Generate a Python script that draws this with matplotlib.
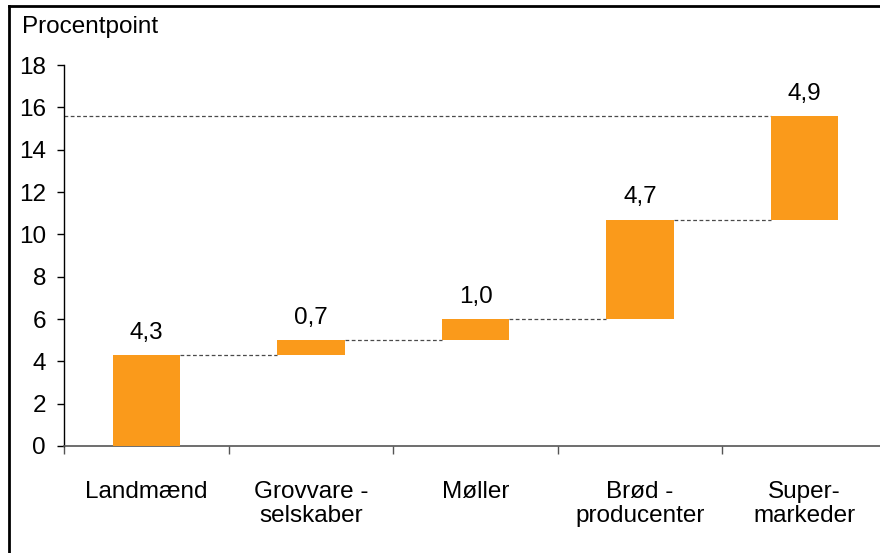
import matplotlib
matplotlib.use("Agg")
import matplotlib.pyplot as plt
from matplotlib.lines import Line2D

plt.rcParams['font.family'] = ['Liberation Sans', 'DejaVu Sans']

categories = ["Landmænd", "Grovvare -\nselskaber", "Møller", "Brød -\nproducenter", "Super-\nmarkeder"]
increments = [4.3, 0.7, 1.0, 4.7, 4.9]
value_labels = ["4,3", "0,7", "1,0", "4,7", "4,9"]
yticks = [0, 2, 4, 6, 8, 10, 12, 14, 16, 18]

bar_color = "#FA9A1B"
fs = 17.5

fig = plt.figure(figsize=(8.8, 5.53), dpi=100)
ax = fig.add_axes([64/880, 1-446/553, 823/880, (446-65)/553])

bases = []
tops = []
cum = 0.0
for v in increments:
    bases.append(cum)
    cum += v
    tops.append(cum)

x = list(range(len(categories)))
w = 0.41
ax.bar(x, increments, bottom=bases, width=w, color=bar_color, edgecolor='none', zorder=3)

for i, (t, lab) in enumerate(zip(tops, value_labels)):
    ax.annotate(lab, (x[i], t), xytext=(0, 8), textcoords='offset points',
                ha='center', va='bottom', fontsize=fs)

# connector lines
for i in range(len(x) - 1):
    ax.plot([x[i] + w/2, x[i+1] - w/2], [tops[i], tops[i]], color='#4a4a4a',
            lw=0.9, ls=(0, (3, 2)), zorder=2)
ax.plot([-0.5, x[-1] - w/2], [tops[-1], tops[-1]], color='#4a4a4a',
        lw=0.9, ls=(0, (3, 2)), zorder=2)

ax.set_xlim(-0.5, len(x) - 0.5)
ax.set_ylim(0, 18)
ax.set_yticks(yticks)
ax.set_yticklabels([str(t) for t in yticks], fontsize=fs)
ax.tick_params(axis='y', direction='out', length=5, width=1, pad=8)

ax.set_xticks(x)
ax.set_xticklabels(categories, fontsize=fs, linespacing=1.15)
ax.tick_params(axis='x', which='major', length=0, pad=25)
ax.set_xticks([i - 0.5 for i in range(len(x) + 1)], minor=True)
ax.tick_params(axis='x', which='minor', direction='out', length=6, width=1, color='#555555')

for s in ['top', 'right']:
    ax.spines[s].set_visible(False)
ax.spines['bottom'].set_color('#555555')
ax.spines['left'].set_color('black')
ax.spines['bottom'].set_linewidth(1.2)
ax.spines['left'].set_linewidth(1)

fig.text(22/880, 1-27/553, "Procentpoint", fontsize=fs, ha='left', va='center')

# outer frame (left and top)
fig.add_artist(Line2D([9/880, 9/880], [0, 1-6/553], transform=fig.transFigure, color='black', lw=2))
fig.add_artist(Line2D([9/880, 1], [1-6/553, 1-6/553], transform=fig.transFigure, color='black', lw=2))

fig.savefig("out.png", dpi=100)
